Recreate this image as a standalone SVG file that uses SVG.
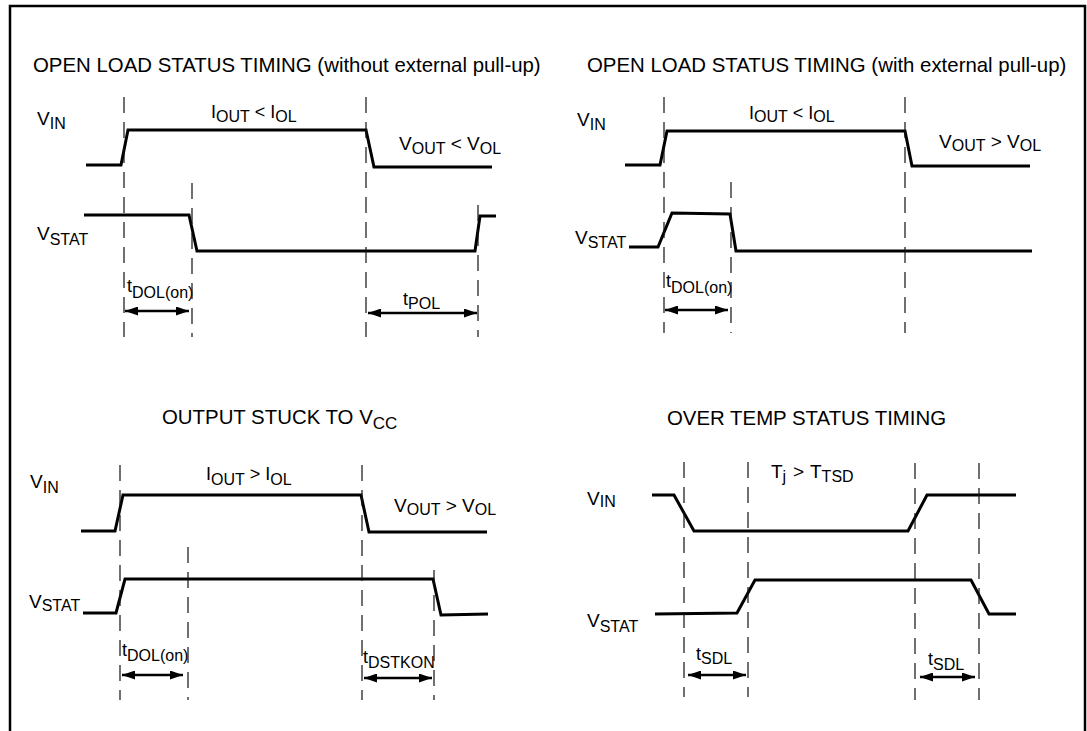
<svg xmlns="http://www.w3.org/2000/svg" width="1087" height="731" viewBox="0 0 1087 731">
<defs>
<marker id="ah" markerUnits="userSpaceOnUse" markerWidth="13" markerHeight="9" refX="13" refY="4.5" orient="auto-start-reverse">
<path d="M0,0 L13,4.5 L0,9 z" fill="#000"/>
</marker>
<style>
text{font-family:"Liberation Sans",Arial,sans-serif;fill:#000;font-size:18px}
.title{font-size:20.4px}
.sub{font-size:16px}
.tsub{font-size:17px}
.big{font-size:19px}
.wave{fill:none;stroke:#000;stroke-width:3;stroke-linejoin:miter}
.dash{fill:none;stroke:#111;stroke-width:1.2;stroke-dasharray:16 9}
.arr{fill:none;stroke:#000;stroke-width:2.5;marker-start:url(#ah);marker-end:url(#ah)}
.frame{fill:none;stroke:#000;stroke-width:2.5}
</style>
</defs>
<rect width="1087" height="731" fill="#fff"/>
<path class="frame" d="M10,735 V6 H1085 V735"/>

<g id="panel-open-load-without-pullup">
<text class="title" x="33" y="72">OPEN LOAD STATUS TIMING (without external pull-up)</text>
<text class="big" x="37" y="125">V<tspan class="sub" dy="4">IN</tspan></text>
<text x="211" y="118">I<tspan class="sub" dy="4">OUT</tspan><tspan dy="-4"> &lt; I</tspan><tspan class="sub" dy="4">OL</tspan></text>
<text class="big" x="399" y="150">V<tspan class="sub" dy="4">OUT</tspan><tspan dy="-4"> &lt; V</tspan><tspan class="sub" dy="4">OL</tspan></text>
<text class="big" x="37" y="240">V<tspan class="sub" dy="5">STAT</tspan></text>
<text x="127" y="292">t<tspan class="sub" dy="6">DOL(on)</tspan></text>
<text x="403" y="305">t<tspan class="sub" dy="4">POL</tspan></text>
<path class="wave" d="M86,165 L121,165 L128,130 L366,130 L374,167 L492,167"/>
<path class="wave" d="M84,215 L189,215 L197,251 L475,251 L480,216 L496,216"/>
</g>

<g id="panel-open-load-with-pullup">
<text class="title" x="587" y="72">OPEN LOAD STATUS TIMING (with external pull-up)</text>
<text class="big" x="577" y="126">V<tspan class="sub" dy="4">IN</tspan></text>
<text x="749" y="119">I<tspan class="sub" dy="3">OUT</tspan><tspan dy="-3"> &lt; I</tspan><tspan class="sub" dy="3">OL</tspan></text>
<text class="big" x="939" y="148">V<tspan class="sub" dy="3">OUT</tspan><tspan dy="-3"> &gt; V</tspan><tspan class="sub" dy="3">OL</tspan></text>
<text class="big" x="575" y="244">V<tspan class="sub" dy="4">STAT</tspan></text>
<text x="666" y="287">t<tspan class="sub" dy="6">DOL(on)</tspan></text>
<path class="wave" d="M625,165 L660,165 L667,131 L905,131 L912,166 L1030,166"/>
<path class="wave" d="M629,247 L658,247 L672,213 L730,214 L736,251 L1032,251"/>
</g>

<g id="panel-output-stuck">
<text class="title" x="162" y="424">OUTPUT STUCK TO V<tspan class="tsub" dy="5">CC</tspan></text>
<text class="big" x="30" y="488">V<tspan class="sub" dy="5">IN</tspan></text>
<text x="206" y="480">I<tspan class="sub" dy="5">OUT</tspan><tspan dy="-5"> &gt; I</tspan><tspan class="sub" dy="5">OL</tspan></text>
<text class="big" x="394" y="512">V<tspan class="sub" dy="3">OUT</tspan><tspan dy="-3"> &gt; V</tspan><tspan class="sub" dy="3">OL</tspan></text>
<text class="big" x="29" y="608">V<tspan class="sub" dy="3">STAT</tspan></text>
<text x="122" y="656">t<tspan class="sub" dy="5">DOL(on)</tspan></text>
<text x="363" y="663">t<tspan class="sub" dy="5">DSTKON</tspan></text>
<path class="wave" d="M81,531 L115,531 L123,495 L361,495 L369,532 L487,532"/>
<path class="wave" d="M83,613 L116,613 L125,579 L433,579 L441,615 L488,614"/>
</g>

<g id="panel-over-temp">
<text class="title" x="667" y="425">OVER TEMP STATUS TIMING</text>
<text class="big" x="771" y="478">T<tspan class="sub" dy="4">j</tspan><tspan dy="-4" x="793">&gt;</tspan><tspan x="810">T</tspan><tspan class="sub" dy="4">TSD</tspan></text>
<text class="big" x="587" y="505">V<tspan class="sub" dy="2">IN</tspan></text>
<text class="big" x="587" y="627">V<tspan class="sub" dy="5">STAT</tspan></text>
<text x="696" y="660">t<tspan class="sub" dy="4">SDL</tspan></text>
<text x="928" y="665">t<tspan class="sub" dy="5">SDL</tspan></text>
<path class="wave" d="M652,495 L674,495 L694,531 L908,531 L927,495 L1016,495"/>
<path class="wave" d="M655,614 L737,613 L755,580 L971,580 L989,614 L1016,614"/>
</g>

<g id="connectors">
<path class="dash" d="M124,97 V337 M192,183 V337 M366,97 V337 M478,205 V337"/>
<path class="dash" d="M664,97 V333 M731,182 V333 M905,97 V333"/>
<path class="dash" d="M120,465 V700 M188,547 V700 M362,465 V700 M434,570 V700"/>
<path class="dash" d="M684,462 V697 M748,462 V697 M915,463 V700 M979,463 V700"/>
<path class="arr" d="M125,311 H189"/>
<path class="arr" d="M368,313 H477"/>
<path class="arr" d="M665,310 H728"/>
<path class="arr" d="M122,675 H183"/>
<path class="arr" d="M364,678 H432"/>
<path class="arr" d="M688,675 H746"/>
<path class="arr" d="M920,677 H975"/>
</g>
</svg>
